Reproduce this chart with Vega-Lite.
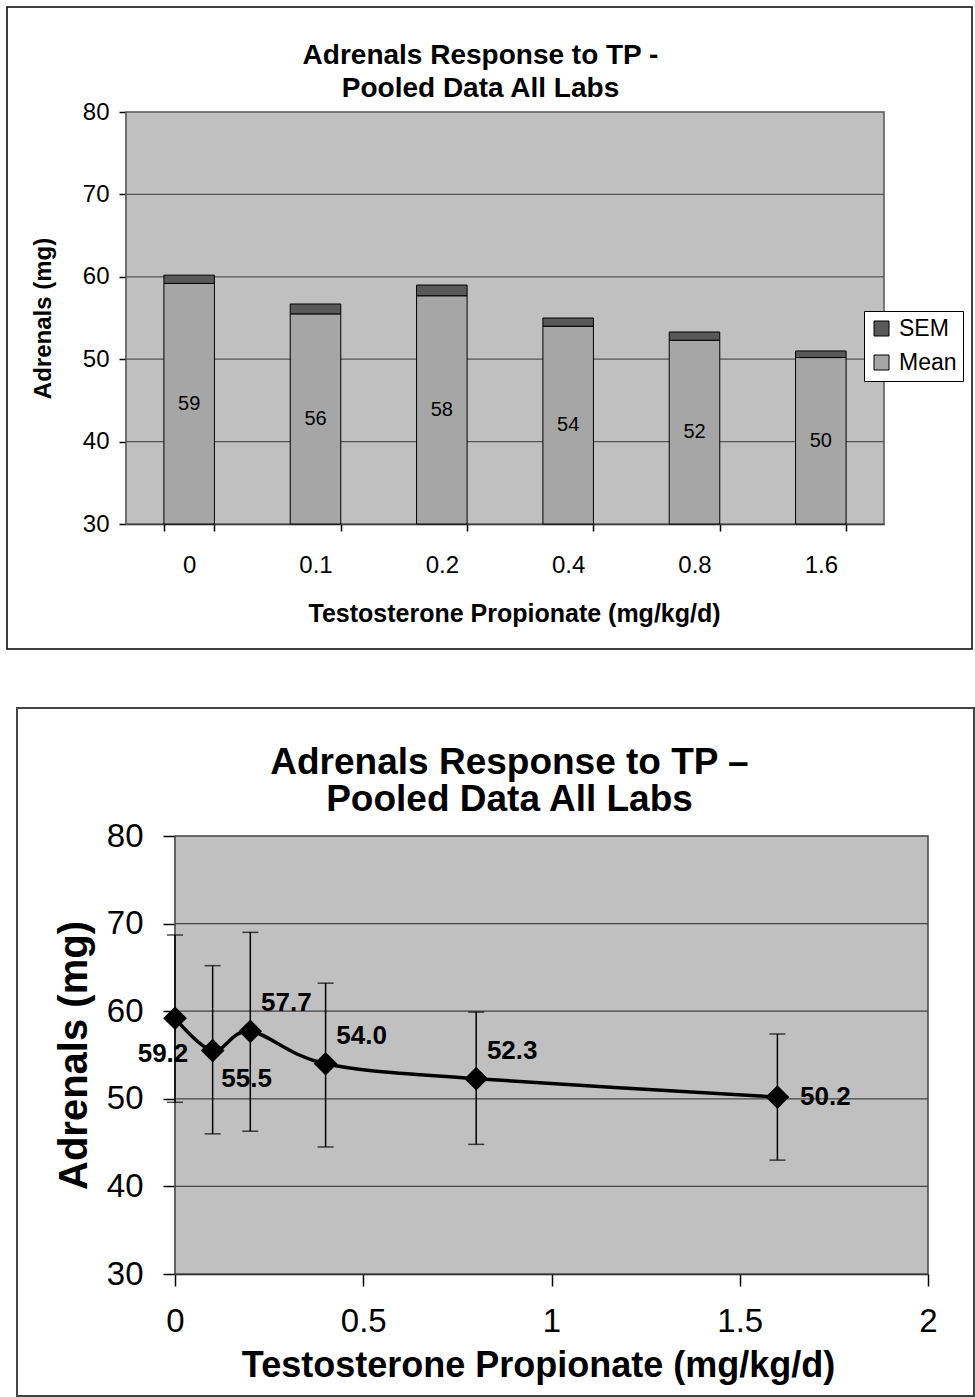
{
  "$schema": "https://vega.github.io/schema/vega-lite/v6.json",
  "padding": {"left": 4, "top": 6, "right": 0, "bottom": 0},
  "background": "white",
  "datasets": {
    "adrenals": [
      {"dose": 0, "mean": 59.2, "semTop": 60.2, "lo": 49.6, "hi": 68.7},
      {"dose": 0.1, "mean": 55.5, "semTop": 56.7, "lo": 46.0, "hi": 65.2},
      {"dose": 0.2, "mean": 57.7, "semTop": 59.0, "lo": 46.3, "hi": 69.0},
      {"dose": 0.4, "mean": 54.0, "semTop": 55.0, "lo": 44.5, "hi": 63.2},
      {"dose": 0.8, "mean": 52.3, "semTop": 53.3, "lo": 44.8, "hi": 59.9},
      {"dose": 1.6, "mean": 50.2, "semTop": 51.0, "lo": 43.0, "hi": 57.4}
    ]
  },
  "data": {"name": "adrenals"},
  "spacing": 55,
  "vconcat": [
    {
      "width": 965,
      "height": 642,
      "view": {"stroke": "black", "strokeWidth": 1.5, "fill": "white"},
      "title": {
        "text": ["Adrenals Response to TP -", "Pooled Data All Labs"],
        "fontSize": 28, "fontWeight": "bold", "color": "black",
        "anchor": "middle", "frame": "group", "offset": -96, "lineHeight": 33, "dx": -9
      },
      "resolve": {"scale": {"x": "independent", "y": "independent"}},
      "layer": [
        {
          "data": {"values": [{}]},
          "mark": {"type": "rect", "fill": "#C0C0C0", "stroke": "#555555", "strokeWidth": 1.5},
          "encoding": {
            "x": {"datum": 0, "type": "quantitative", "scale": {"domain": [0, 1], "range": [119, 877], "nice": false, "zero": false}, "axis": null},
            "x2": {"datum": 1},
            "y": {"datum": 30, "type": "quantitative", "scale": {"domain": [30, 80], "range": [517, 105], "nice": false, "zero": false}, "axis": null},
            "y2": {"datum": 80}
          }
        },
        {
          "data": {"values": [{}]},
          "mark": {"type": "rule", "color": "#555555", "strokeWidth": 1.2},
          "encoding": {
            "x": {"datum": 0, "type": "quantitative", "scale": {"domain": [0, 1], "range": [119, 877], "nice": false, "zero": false}, "axis": null},
            "x2": {"datum": 1},
            "y": {"datum": 40, "type": "quantitative", "scale": {"domain": [30, 80], "range": [517, 105], "nice": false, "zero": false}, "axis": null}
          }
        },
        {
          "data": {"values": [{}]},
          "mark": {"type": "rule", "color": "#555555", "strokeWidth": 1.2},
          "encoding": {
            "x": {"datum": 0, "type": "quantitative", "scale": {"domain": [0, 1], "range": [119, 877], "nice": false, "zero": false}, "axis": null},
            "x2": {"datum": 1},
            "y": {"datum": 50, "type": "quantitative", "scale": {"domain": [30, 80], "range": [517, 105], "nice": false, "zero": false}, "axis": null}
          }
        },
        {
          "data": {"values": [{}]},
          "mark": {"type": "rule", "color": "#555555", "strokeWidth": 1.2},
          "encoding": {
            "x": {"datum": 0, "type": "quantitative", "scale": {"domain": [0, 1], "range": [119, 877], "nice": false, "zero": false}, "axis": null},
            "x2": {"datum": 1},
            "y": {"datum": 60, "type": "quantitative", "scale": {"domain": [30, 80], "range": [517, 105], "nice": false, "zero": false}, "axis": null}
          }
        },
        {
          "data": {"values": [{}]},
          "mark": {"type": "rule", "color": "#555555", "strokeWidth": 1.2},
          "encoding": {
            "x": {"datum": 0, "type": "quantitative", "scale": {"domain": [0, 1], "range": [119, 877], "nice": false, "zero": false}, "axis": null},
            "x2": {"datum": 1},
            "y": {"datum": 70, "type": "quantitative", "scale": {"domain": [30, 80], "range": [517, 105], "nice": false, "zero": false}, "axis": null}
          }
        },
        {
          "mark": {"type": "bar", "stroke": "black", "strokeWidth": 1, "opacity": 1},
          "encoding": {
            "x": {
              "field": "dose", "type": "ordinal", "sort": null,
              "scale": {"range": [119, 877], "paddingInner": 0.6, "paddingOuter": 0.3},
              "axis": {
                "orient": "bottom", "offset": -125, "labelAngle": 0,
                "title": "Testosterone Propionate (mg/kg/d)",
                "titleFontSize": 25, "titleFontWeight": "bold", "titlePadding": 24, "titleX": 507,
                "labelFontSize": 24, "labelPadding": 22, "tickSize": 7, "tickBand": "extent"
              }
            },
            "y": {
              "field": "mean", "type": "quantitative",
              "scale": {"domain": [30, 80], "range": [517, 105], "nice": false, "zero": false},
              "axis": {
                "orient": "left", "offset": -119, "values": [30, 40, 50, 60, 70, 80],
                "title": "Adrenals (mg)", "titleFontSize": 24, "titleFontWeight": "bold", "titlePadding": 27,
                "labelFontSize": 24, "labelPadding": 10, "tickSize": 7
              }
            },
            "y2": {"datum": 30},
            "color": {
              "datum": "Mean", "type": "nominal",
              "scale": {"domain": ["SEM", "Mean"], "range": ["#595959", "#A6A6A6"]},
              "legend": {
                "orient": "none", "legendX": 857, "legendY": 304, "title": null,
                "symbolType": "square", "symbolSize": 225, "symbolStrokeColor": "black", "symbolStrokeWidth": 1, "symbolOpacity": 1,
                "labelFontSize": 23, "labelColor": "black", "labelOffset": 6, "rowPadding": 10,
                "padding": 6, "strokeColor": "black", "fillColor": "white"
              }
            }
          }
        },
        {
          "mark": {"type": "bar", "stroke": "black", "strokeWidth": 1, "opacity": 1},
          "encoding": {
            "x": {"field": "dose", "type": "ordinal", "sort": null, "scale": {"range": [119, 877], "paddingInner": 0.6, "paddingOuter": 0.3}, "axis": null},
            "y": {"field": "semTop", "type": "quantitative", "scale": {"domain": [30, 80], "range": [517, 105], "nice": false, "zero": false}, "axis": null},
            "y2": {"field": "mean"},
            "color": {"datum": "SEM", "type": "nominal"}
          }
        },
        {
          "mark": {"type": "text", "fontSize": 20, "color": "black", "baseline": "middle", "align": "center"},
          "encoding": {
            "x": {"field": "dose", "type": "ordinal", "sort": null, "scale": {"range": [119, 877], "paddingInner": 0.6, "paddingOuter": 0.3}, "axis": null},
            "y": {"field": "mean", "type": "quantitative", "scale": {"domain": [30, 130], "range": [517, 105], "nice": false, "zero": false}, "axis": null},
            "text": {"field": "mean", "type": "quantitative", "format": ".0f"}
          }
        }
      ]
    },
    {
      "spacing": 5,
      "hconcat": [
        {
          "width": 1, "height": 1,
          "data": {"values": [{}]},
          "view": {"stroke": null, "fill": null},
          "mark": {"type": "point", "opacity": 0}
        },
        {
          "width": 957,
          "height": 688,
          "view": {"stroke": "#444444", "strokeWidth": 2, "fill": "white"},
          "title": {
            "text": ["Adrenals Response to TP –", "Pooled Data All Labs"],
            "fontSize": 37, "fontWeight": "bold", "color": "black",
            "anchor": "middle", "frame": "group", "offset": -111, "lineHeight": 37, "dx": 14
          },
          "layer": [
            {
              "data": {"values": [{}]},
              "mark": {"type": "rect", "fill": "#C0C0C0", "stroke": "#444444", "strokeWidth": 1.5},
              "encoding": {
                "x": {
                  "datum": 0, "type": "quantitative",
                  "scale": {"domain": [0, 2], "range": [158, 911], "nice": false, "zero": false},
                  "axis": {
                    "orient": "bottom", "offset": -122, "values": [0, 0.5, 1, 1.5, 2], "format": "~g",
                    "title": "Testosterone Propionate (mg/kg/d)", "titleFontSize": 36, "titleFontWeight": "bold", "titlePadding": 10, "titleX": 521,
                    "labelFontSize": 33, "labelPadding": 19, "tickSize": 12
                  }
                },
                "x2": {"datum": 2},
                "y": {
                  "datum": 30, "type": "quantitative",
                  "scale": {"domain": [30, 80], "range": [566, 128], "nice": false, "zero": false},
                  "axis": {
                    "orient": "left", "offset": -158, "values": [30, 40, 50, 60, 70, 80],
                    "title": "Adrenals (mg)", "titleFontSize": 40, "titleFontWeight": "bold", "titlePadding": 12,
                    "labelFontSize": 33, "labelPadding": 20, "tickSize": 12
                  }
                },
                "y2": {"datum": 80}
              }
            },
            {
              "data": {"values": [{}]},
              "mark": {"type": "rule", "color": "#444444", "strokeWidth": 1.2},
              "encoding": {"x": {"datum": 0, "type": "quantitative"}, "x2": {"datum": 2}, "y": {"datum": 40, "type": "quantitative"}}
            },
            {
              "data": {"values": [{}]},
              "mark": {"type": "rule", "color": "#444444", "strokeWidth": 1.2},
              "encoding": {"x": {"datum": 0, "type": "quantitative"}, "x2": {"datum": 2}, "y": {"datum": 50, "type": "quantitative"}}
            },
            {
              "data": {"values": [{}]},
              "mark": {"type": "rule", "color": "#444444", "strokeWidth": 1.2},
              "encoding": {"x": {"datum": 0, "type": "quantitative"}, "x2": {"datum": 2}, "y": {"datum": 60, "type": "quantitative"}}
            },
            {
              "data": {"values": [{}]},
              "mark": {"type": "rule", "color": "#444444", "strokeWidth": 1.2},
              "encoding": {"x": {"datum": 0, "type": "quantitative"}, "x2": {"datum": 2}, "y": {"datum": 70, "type": "quantitative"}}
            },
            {
              "mark": {"type": "errorbar", "thickness": 1.5, "ticks": {"size": 16, "color": "black"}, "rule": {"color": "black"}},
              "encoding": {
                "x": {"field": "dose", "type": "quantitative", "title": "Testosterone Propionate (mg/kg/d)"},
                "y": {"field": "lo", "type": "quantitative", "title": "Adrenals (mg)"},
                "y2": {"field": "hi"}
              }
            },
            {
              "mark": {"type": "line", "interpolate": "cardinal", "color": "black", "strokeWidth": 3.5},
              "encoding": {
                "x": {"field": "dose", "type": "quantitative", "title": "Testosterone Propionate (mg/kg/d)"},
                "y": {"field": "mean", "type": "quantitative", "title": "Adrenals (mg)"}
              }
            },
            {
              "mark": {"type": "point", "shape": "diamond", "filled": true, "color": "black", "opacity": 1, "size": 560},
              "encoding": {
                "x": {"field": "dose", "type": "quantitative", "title": "Testosterone Propionate (mg/kg/d)"},
                "y": {"field": "mean", "type": "quantitative", "title": "Adrenals (mg)"}
              }
            },
            {
              "transform": [{"filter": {"field": "dose", "oneOf": [0.2, 0.4, 0.8]}}],
              "mark": {"type": "text", "fontSize": 26, "fontWeight": "bold", "color": "black", "align": "center", "baseline": "middle", "dx": 36, "dy": -28},
              "encoding": {
                "x": {"field": "dose", "type": "quantitative", "title": "Testosterone Propionate (mg/kg/d)"},
                "y": {"field": "mean", "type": "quantitative", "title": "Adrenals (mg)"},
                "text": {"field": "mean", "type": "quantitative", "format": ".1f"}
              }
            },
            {
              "transform": [{"filter": {"field": "dose", "equal": 0.1}}],
              "mark": {"type": "text", "fontSize": 26, "fontWeight": "bold", "color": "black", "align": "center", "baseline": "middle", "dx": 34, "dy": 28},
              "encoding": {
                "x": {"field": "dose", "type": "quantitative", "title": "Testosterone Propionate (mg/kg/d)"},
                "y": {"field": "mean", "type": "quantitative", "title": "Adrenals (mg)"},
                "text": {"field": "mean", "type": "quantitative", "format": ".1f"}
              }
            },
            {
              "transform": [{"filter": {"field": "dose", "equal": 1.6}}],
              "mark": {"type": "text", "fontSize": 26, "fontWeight": "bold", "color": "black", "align": "center", "baseline": "middle", "dx": 48, "dy": 0},
              "encoding": {
                "x": {"field": "dose", "type": "quantitative", "title": "Testosterone Propionate (mg/kg/d)"},
                "y": {"field": "mean", "type": "quantitative", "title": "Adrenals (mg)"},
                "text": {"field": "mean", "type": "quantitative", "format": ".1f"}
              }
            },
            {
              "transform": [{"filter": {"field": "dose", "equal": 0}}],
              "mark": {"type": "text", "fontSize": 26, "fontWeight": "bold", "color": "black", "align": "center", "baseline": "middle", "dx": -12, "dy": 36},
              "encoding": {
                "x": {"field": "dose", "type": "quantitative", "title": "Testosterone Propionate (mg/kg/d)"},
                "y": {"field": "mean", "type": "quantitative", "title": "Adrenals (mg)"},
                "text": {"field": "mean", "type": "quantitative", "format": ".1f"}
              }
            }
          ]
        }
      ]
    }
  ],
  "config": {
    "font": "Liberation Sans",
    "axis": {
      "labelColor": "black", "titleColor": "black", "domainColor": "black", "tickColor": "black",
      "domainWidth": 1.5, "tickWidth": 1.5, "grid": false, "zindex": 1,
      "labelFlush": false, "labelOverlap": false, "labelFont": "Liberation Sans", "titleFont": "Liberation Sans"
    },
    "title": {"font": "Liberation Sans", "color": "black"},
    "legend": {"labelFont": "Liberation Sans"},
    "text": {"font": "Liberation Sans"}
  }
}
